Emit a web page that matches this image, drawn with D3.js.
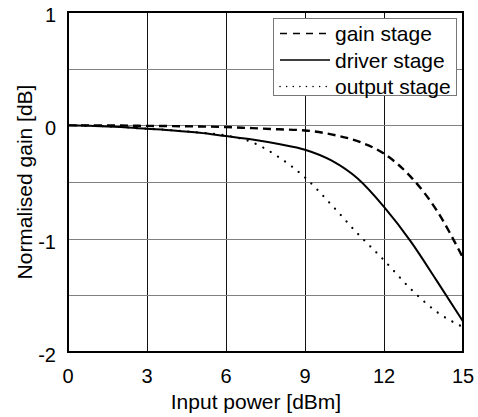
<!DOCTYPE html>
<html>
<head>
<meta charset="utf-8">
<script src="https://cdn.jsdelivr.net/npm/d3@7"></script>
<style>
  body { margin: 0; background: #fff; }
  text { font-family: "Liberation Sans", Arial, sans-serif; fill: #000; }
</style>
</head>
<body>
<div id="chart"></div>
<script>
// Input power points (dBm)
const inputPower = [0, 1, 2, 3, 4, 5, 6, 7, 8, 9, 10, 11, 12, 13, 14, 15];
// Normalised gain (dB)
const gainStage   = [0, 0, -0.002, -0.005, -0.007, -0.01, -0.015, -0.025, -0.035, -0.045, -0.08, -0.14, -0.25, -0.45, -0.75, -1.17];
const driverStage = [0, -0.005, -0.015, -0.03, -0.045, -0.065, -0.095, -0.125, -0.165, -0.215, -0.31, -0.47, -0.72, -1.02, -1.37, -1.73];
const outputStage = [0, -0.005, -0.015, -0.03, -0.045, -0.065, -0.09, -0.15, -0.28, -0.46, -0.70, -0.955, -1.19, -1.44, -1.645, -1.78];
const seriesNames = ['gain stage', 'driver stage', 'output stage'];
const xTicks = [0, 3, 6, 9, 12, 15];
const yTicks = [-2, -1, 0, 1];
const yGrid = [-1.5, -1, -0.5, 0, 0.5];

const svg = d3.select('#chart').append('svg')
    .attr('width', 478)
    .attr('height', 417);

const margin = {top: 12, right: 15, bottom: 65, left: 68};
const width = 478 - margin.left - margin.right;
const height = 417 - margin.top - margin.bottom;
const g = svg.append('g').attr('transform', `translate(${margin.left},${margin.top})`);

const x = d3.scaleLinear().domain([0, 15]).range([0, width]);
const y = d3.scaleLinear().domain([-2, 1]).range([height, 0]);

// grid
g.selectAll('.vgrid')
    .data(xTicks.slice(1, -1))
    .enter().append('line')
    .attr('x1', d => Math.round(x(d)) + 0.5)
    .attr('x2', d => Math.round(x(d)) + 0.5)
    .attr('y1', 0).attr('y2', height)
    .attr('stroke', '#111').attr('stroke-width', 1);

g.selectAll('.hgrid')
    .data(yGrid)
    .enter().append('line')
    .attr('y1', d => Math.round(y(d)) + 0.5)
    .attr('y2', d => Math.round(y(d)) + 0.5)
    .attr('x1', 0).attr('x2', width)
    .attr('stroke', '#808080').attr('stroke-width', 1);

// tick labels
g.selectAll('.xlab')
    .data(xTicks)
    .enter().append('text')
    .attr('x', d => x(d))
    .attr('y', height + 31)
    .attr('text-anchor', 'middle')
    .style('font-size', '20px')
    .text(d => d);

g.selectAll('.ylab')
    .data(yTicks)
    .enter().append('text')
    .attr('x', -12)
    .attr('y', d => y(d) + 10)
    .attr('text-anchor', 'end')
    .style('font-size', '20px')
    .text(d => d);

// axis titles
svg.append('text')
    .attr('x', 256)
    .attr('y', 409)
    .attr('text-anchor', 'middle')
    .style('font-size', '21px')
    .text('Input power [dBm]');

svg.append('text')
    .attr('transform', `translate(32,${margin.top + height / 2}) rotate(-90)`)
    .attr('text-anchor', 'middle')
    .style('font-size', '21px')
    .text('Normalised gain [dB]');

// series
const styles = [
    {dash: '8,5', width: 2.4, cap: 'butt'},
    {dash: null, width: 2, cap: 'butt'},
    {dash: '0.1,8.5', width: 2.2, cap: 'round'}
];
const allSeries = [gainStage, driverStage, outputStage];

const line = d3.line()
    .x((d, i) => x(inputPower[i]))
    .y(d => y(d))
    .curve(d3.curveMonotoneX);

g.selectAll('.series')
    .data(allSeries)
    .enter().append('path')
    .attr('d', line)
    .attr('fill', 'none')
    .attr('stroke', '#000')
    .attr('stroke-width', (d, i) => styles[i].width)
    .attr('stroke-linecap', (d, i) => styles[i].cap)
    .attr('stroke-dasharray', (d, i) => styles[i].dash);

// frame
g.append('rect')
    .attr('x', 0).attr('y', 0)
    .attr('width', width).attr('height', height)
    .attr('fill', 'none')
    .attr('stroke', '#000')
    .attr('stroke-width', 2);

// legend
const legend = svg.append('g');
legend.append('rect')
    .attr('x', 273.5).attr('y', 18.5)
    .attr('width', 183).attr('height', 77)
    .attr('fill', '#fff')
    .attr('stroke', '#777')
    .attr('stroke-width', 1);

const rows = legend.selectAll('.row')
    .data(seriesNames)
    .enter().append('g')
    .attr('transform', (d, i) => `translate(0,${33.5 + i * 26.5})`);

rows.append('line')
    .attr('x1', 280).attr('x2', 330)
    .attr('y1', 0).attr('y2', 0)
    .attr('stroke', '#000')
    .attr('stroke-width', 1.5)
    .attr('stroke-linecap', (d, i) => styles[i].cap)
    .attr('stroke-dasharray', (d, i) => i === 0 ? '7,6' : (i === 2 ? '0.1,6.5' : null));

rows.append('text')
    .attr('x', 335)
    .attr('y', 7.5)
    .style('font-size', '21px')
    .text(d => d);
</script>
</body>
</html>
